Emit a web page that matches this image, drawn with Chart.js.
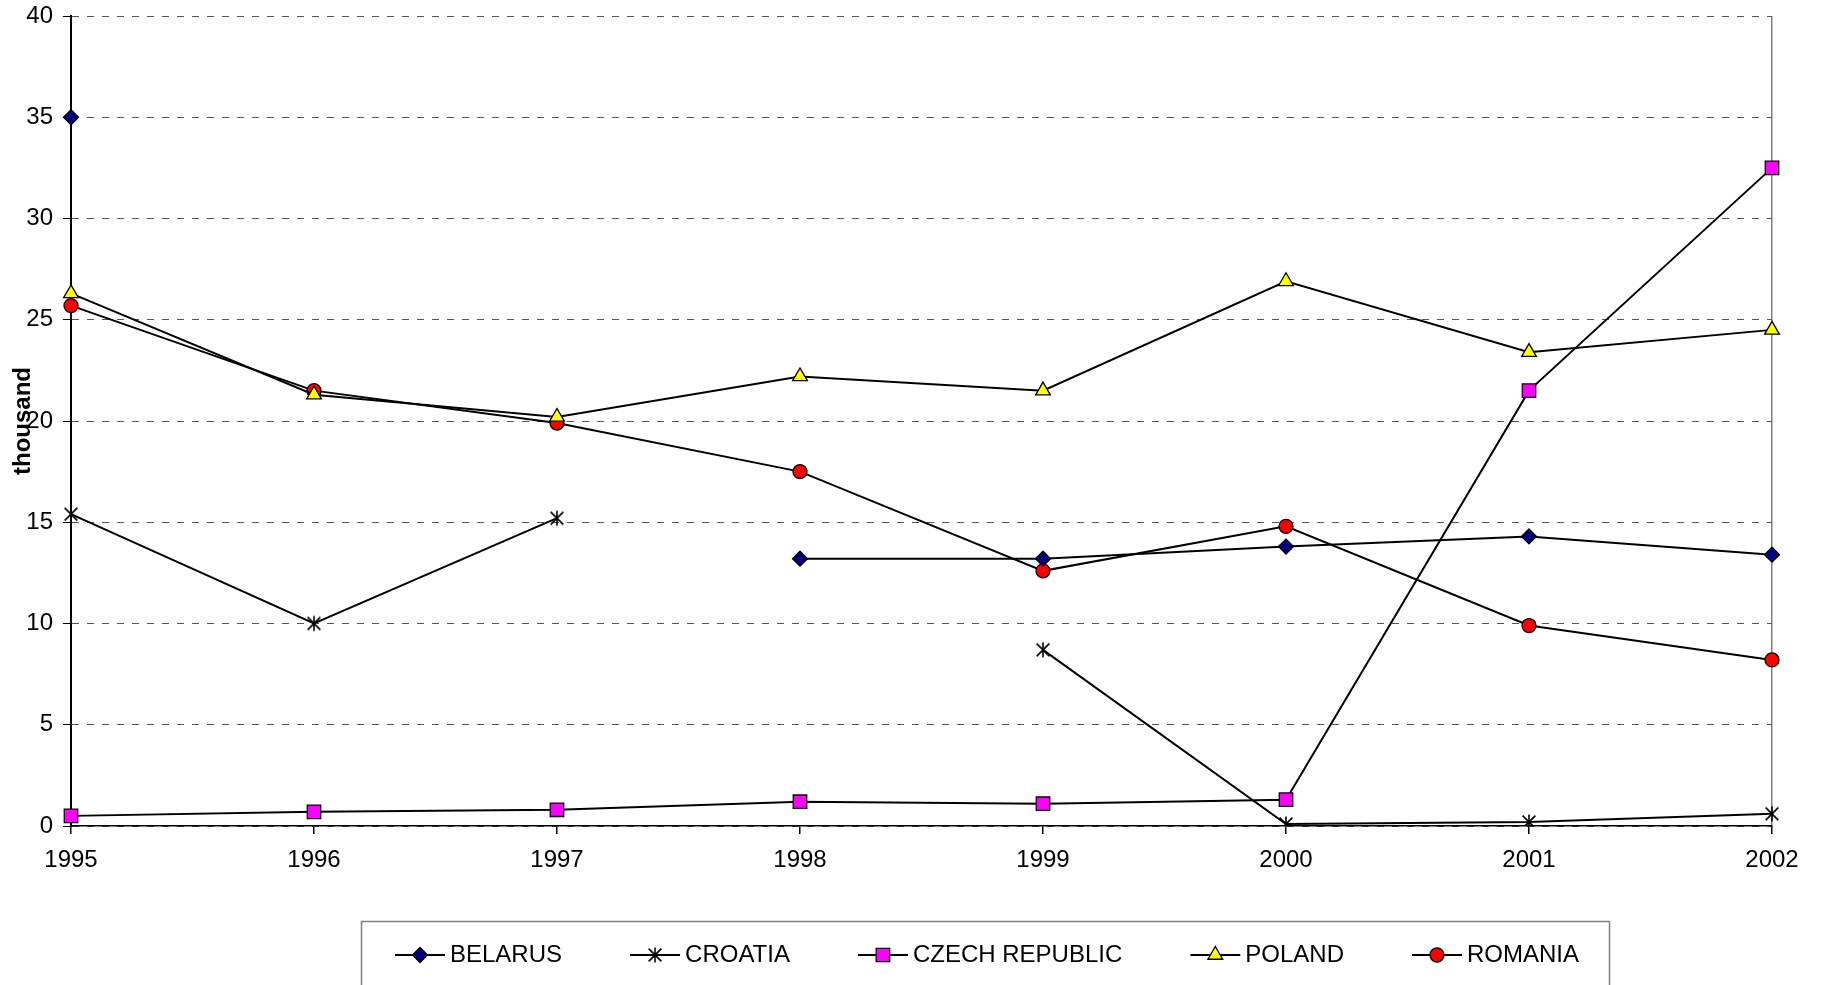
<!DOCTYPE html>
<html>
<head>
<meta charset="utf-8">
<title>Annual figures 1995–2002</title>
<script src="https://cdn.jsdelivr.net/npm/chart.js"></script>
<style>
  html, body { margin: 0; padding: 0; background: #fff; }
  canvas { display: block; }
</style>
</head>
<body>
<canvas id="c" width="1822" height="985"></canvas>
<script>
// Years on the category axis
const years = ['1995', '1996', '1997', '1998', '1999', '2000', '2001', '2002'];

// Values in thousands (null = no data for that year)
const belarus = [35.0, null, null, 13.2, 13.2, 13.8, 14.3, 13.4];
const croatia = [15.4, 10.0, 15.2, null, 8.7, 0.1, 0.2, 0.6];
const czechRepublic = [0.5, 0.7, 0.8, 1.2, 1.1, 1.3, 21.5, 32.5];
const poland = [26.3, 21.3, 20.2, 22.2, 21.5, 26.9, 23.4, 24.5];
const romania = [25.7, 21.5, 19.9, 17.5, 12.6, 14.8, 9.9, 8.2];

// Value axis range
const yMin = 0;
const yMax = 40;
const yStep = 5;
const yTitle = 'thousand';

const FONT = '"Liberation Sans", Arial, Helvetica, sans-serif';
Chart.defaults.font.family = FONT;
Chart.defaults.color = '#000';

// Asterisk marker: an X with a vertical stroke through it
function makeAsterisk(size) {
  const cv = document.createElement('canvas');
  cv.width = size; cv.height = size;
  const g = cv.getContext('2d');
  const c = size / 2, r = size / 2 - 1.5;
  const d = r * 0.85;
  g.strokeStyle = '#000';
  g.lineWidth = 1.6;
  g.beginPath();
  g.moveTo(c - d, c - d); g.lineTo(c + d, c + d);
  g.moveTo(c + d, c - d); g.lineTo(c - d, c + d);
  g.moveTo(c, c - r); g.lineTo(c, c + r);
  g.stroke();
  return cv;
}
const asterisk = makeAsterisk(18);

function series(label, data, style, fill, radius) {
  return {
    label: label,
    data: data,
    borderColor: '#000',
    borderWidth: 2,
    pointStyle: style,
    pointRadius: radius,
    pointBackgroundColor: fill,
    pointBorderColor: '#000',
    pointBorderWidth: 1.3,
    spanGaps: false,
    tension: 0
  };
}

// Framed legend under the plot: a short line with the series marker, then the name
const framedLegend = {
  id: 'framedLegend',
  afterDraw(chart) {
    const ctx = chart.ctx;
    const box = { left: 361, top: 921, right: 1609, bottom: 1000 };
    ctx.save();
    ctx.strokeStyle = '#808080';
    ctx.lineWidth = 1.5;
    ctx.strokeRect(box.left + 0.5, box.top + 0.5, box.right - box.left, box.bottom - box.top);

    ctx.font = '24px ' + FONT;
    ctx.textBaseline = 'middle';
    ctx.textAlign = 'left';
    const y = 955;
    let x = box.left + 34;
    chart.data.datasets.forEach(ds => {
      ctx.strokeStyle = '#000';
      ctx.lineWidth = 2;
      ctx.setLineDash([]);
      ctx.beginPath();
      ctx.moveTo(x, y);
      ctx.lineTo(x + 50, y);
      ctx.stroke();

      ctx.fillStyle = ds.pointBackgroundColor;
      ctx.strokeStyle = ds.pointBorderColor;
      ctx.lineWidth = ds.pointBorderWidth;
      Chart.helpers.drawPoint(ctx, {
        pointStyle: ds.pointStyle,
        radius: ds.pointRadius,
        borderWidth: ds.pointBorderWidth,
        rotation: 0
      }, x + 25, y);

      ctx.fillStyle = '#000';
      ctx.fillText(ds.label, x + 55, y);
      x += 55 + ctx.measureText(ds.label).width + 68;
    });
    ctx.restore();
  }
};

new Chart(document.getElementById('c'), {
  type: 'line',
  data: {
    labels: years,
    datasets: [
      series('BELARUS', belarus, 'rectRot', '#000080', 7.5),
      series('CROATIA', croatia, asterisk, '#000', 8),
      series('CZECH REPUBLIC', czechRepublic, 'rect', '#FF00FF', 9.5),
      series('POLAND', poland, 'triangle', '#FFFF00', 8.5),
      series('ROMANIA', romania, 'circle', '#FF0000', 7)
    ]
  },
  options: {
    responsive: false,
    maintainAspectRatio: false,
    animation: false,
    events: [],
    layout: { padding: { top: 16, right: 50, bottom: 99, left: 0 } },
    plugins: {
      legend: { display: false },
      tooltip: { enabled: false }
    },
    scales: {
      x: {
        type: 'category',
        offset: false,
        afterFit(scale) { scale.height = 60; },
        border: { display: true, color: '#000', width: 1.5 },
        grid: {
          color: ctx => (ctx.index === years.length - 1 ? '#808080' : 'rgba(0,0,0,0)'),
          lineWidth: 1.5,
          tickColor: '#000',
          tickLength: 8,
          tickBorderDash: []
        },
        ticks: {
          font: { size: 24 },
          color: '#000',
          padding: 12,
          maxRotation: 0,
          autoSkip: false
        }
      },
      y: {
        min: yMin,
        max: yMax,
        afterFit(scale) {
          scale.width = 71;
          scale.paddingTop = 0;
          scale.paddingBottom = 0;
        },
        border: { display: true, color: '#000', width: 2, dash: [7, 8] },
        grid: {
          color: '#555',
          lineWidth: 1,
          tickColor: '#000',
          tickLength: 8,
          tickBorderDash: []
        },
        ticks: {
          stepSize: yStep,
          font: { size: 24 },
          color: '#000',
          padding: 10
        },
        title: {
          display: true,
          text: yTitle,
          font: { size: 24, weight: 'bold' },
          color: '#000',
          padding: { top: 9, bottom: 0 }
        }
      }
    }
  },
  plugins: [framedLegend]
});
</script>
</body>
</html>
